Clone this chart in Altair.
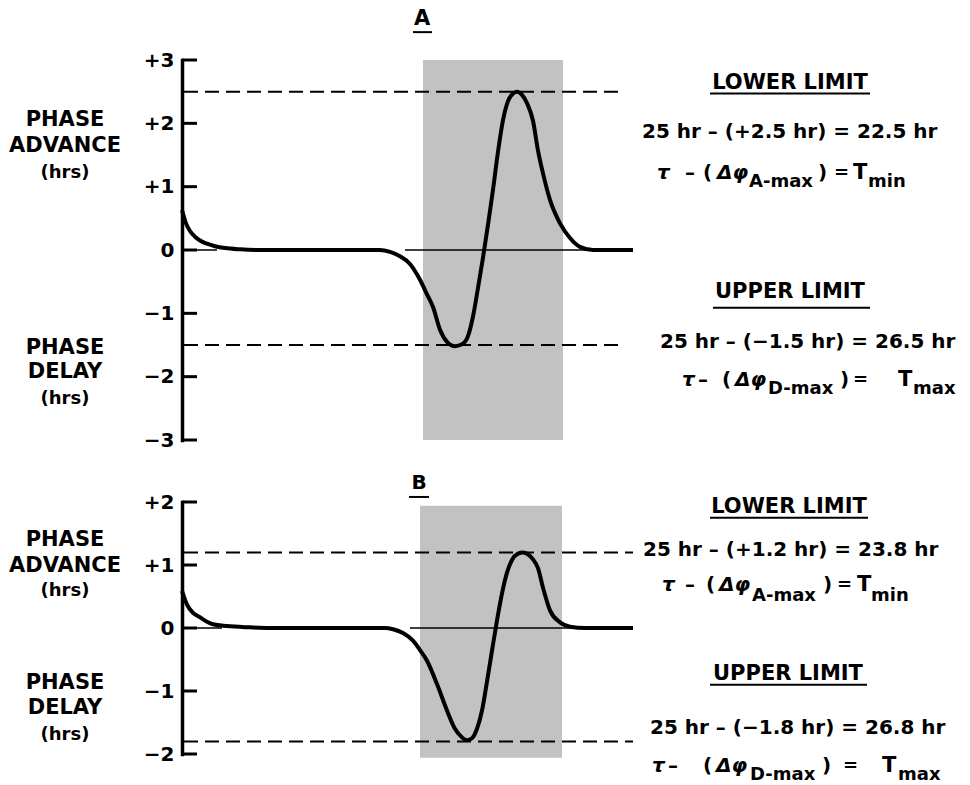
import altair as alt
import pandas as pd

FONT = "DejaVu Sans"

# ---------------- data: panel A ----------------
a_time = [0, 4, 8, 13, 18, 25, 33, 43, 58, 78, 198, 208, 218, 228, 238, 245, 251, 258, 265,
          273, 280, 286, 291, 296, 301, 306, 311, 316, 321, 326, 331, 335, 340, 345, 351, 356,
          361, 368, 378, 388, 398, 411, 451]
a_phase = [0.63, 0.42, 0.30, 0.21, 0.15, 0.10, 0.06, 0.03, 0.01, 0.0, 0.0, -0.03, -0.10, -0.22,
           -0.47, -0.70, -0.90, -1.26, -1.45, -1.52, -1.49, -1.36, -1.05, -0.60, -0.12, 0.40,
           0.95, 1.55, 2.05, 2.35, 2.47, 2.50, 2.45, 2.32, 2.04, 1.57, 1.21, 0.79, 0.42, 0.19,
           0.05, 0.0, 0.0]
a_ticks = [3, 2, 1, 0, -1, -2, -3]
a_max, a_min = 2.5, -1.5

# ---------------- data: panel B ----------------
b_time = [0, 5, 11, 18, 25, 31, 45, 68, 88, 203, 211, 221, 231, 238, 245, 255, 265, 273, 279,
          285, 290, 295, 300, 305, 310, 315, 320, 325, 330, 336, 341, 346, 351, 356, 361, 368,
          378, 388, 403, 451]
b_phase = [0.59, 0.37, 0.24, 0.17, 0.10, 0.06, 0.03, 0.01, 0.0, 0.0, -0.02, -0.08, -0.20, -0.35,
           -0.52, -0.89, -1.31, -1.60, -1.72, -1.78, -1.75, -1.60, -1.31, -0.85, -0.36, 0.12,
           0.55, 0.88, 1.08, 1.18, 1.20, 1.17, 1.09, 0.95, 0.64, 0.28, 0.09, 0.02, 0.0, 0.0]
b_ticks = [2, 1, 0, -1, -2]
b_max, b_min = 1.2, -1.8

# ---------------- text ----------------
a_eq_lower = "25 hr – (+2.5 hr) = 22.5 hr"
a_eq_upper = "25 hr – (−1.5 hr) = 26.5 hr"
b_eq_lower = "25 hr – (+1.2 hr) = 23.8 hr"
b_eq_upper = "25 hr – (−1.8 hr) = 26.8 hr"

X_SCALE = alt.Scale(domain=[0, 451], nice=False, zero=False)


def panel(time, phase, ticks, height, shade, dashes, zeros,
          centered, plain, italic, underlines):
    ysc = alt.Scale(domain=[ticks[-1], ticks[0]], nice=False, zero=False)
    axis = alt.Axis(values=ticks, ticks=False, grid=False, title=None,
                    domainColor="black", domainWidth=3.5, domainCap="square",
                    labelFont=FONT, labelFontWeight="bold", labelFontSize=20,
                    labelColor="black", labelPadding=8, labelFlush=False,
                    labelOverlap=False,
                    labelExpr="datum.value > 0 ? '+' + datum.value : (datum.value < 0 ? '\u2212' + abs(datum.value) : '0')")

    def Y(field):
        return alt.Y(field, scale=ysc, axis=axis)

    def X(field):
        return alt.X(field, scale=X_SCALE, axis=None)

    curve = pd.DataFrame({"t": time, "p": phase})

    shade_df = pd.DataFrame([shade], columns=["x1", "x2", "y1", "y2"])
    shade_l = alt.Chart(shade_df).mark_rect(color="#c2c2c2").encode(
        x=X("x1:Q"), x2="x2:Q", y=Y("y1:Q"), y2="y2:Q")

    zero_df = pd.DataFrame(zeros, columns=["x1", "x2"])
    zero_df["y"] = 0
    zero_l = alt.Chart(zero_df).mark_rule(color="black", strokeWidth=1.5).encode(
        x=X("x1:Q"), x2="x2:Q", y=Y("y:Q"))

    dash_df = pd.DataFrame(dashes, columns=["y", "x1", "x2"])
    dash_l = alt.Chart(dash_df).mark_rule(color="black", strokeWidth=2,
                                          strokeDash=[14, 7]).encode(
        x=X("x1:Q"), x2="x2:Q", y=Y("y:Q"))

    line_l = alt.Chart(curve).mark_line(color="black", strokeWidth=4,
                                        interpolate="monotone").encode(
        x=X("t:Q"), y=Y("p:Q"))

    tick_df = pd.DataFrame({"y": ticks, "x1": 0, "x2": 15})
    tick_l = alt.Chart(tick_df).mark_rule(color="black", strokeWidth=3).encode(
        x=X("x1:Q"), x2="x2:Q", y=Y("y:Q"))

    def txt(rows, align, style="normal"):
        df = pd.DataFrame(rows, columns=["text", "x", "y", "size"])
        return alt.Chart(df).mark_text(font=FONT, fontWeight="bold", fontStyle=style,
                                       align=align, baseline="middle",
                                       color="black").encode(
            x=X("x:Q"), y=Y("y:Q"), text="text:N",
            size=alt.Size("size:Q", scale=None, legend=None))

    ul_df = pd.DataFrame(underlines, columns=["x1", "x2", "y"])
    ul_l = alt.Chart(ul_df).mark_rule(color="black", strokeWidth=2).encode(
        x=X("x1:Q"), x2="x2:Q", y=Y("y:Q"))

    return alt.layer(shade_l, zero_l, dash_l, line_l, tick_l, ul_l,
                     txt(centered, "center"), txt(plain, "left"),
                     txt(italic, "left", "italic")).properties(width=451, height=height)


panel_a = panel(
    a_time, a_phase, a_ticks, 380,
    shade=[241, 381, -3, 3],
    dashes=[[a_max, 2, 441], [a_min, 2, 441]],
    zeros=[[0, 35], [223, 408]],
    centered=[["A", 240, 3.64, 21],
              ["PHASE", -117, 2.05, 21], ["ADVANCE", -117, 1.64, 21], ["(hrs)", -117, 1.21, 18],
              ["PHASE", -117, -1.54, 21], ["DELAY", -117, -1.92, 21], ["(hrs)", -117, -2.35, 18],
              ["LOWER LIMIT", 608, 2.63, 21], ["UPPER LIMIT", 608, -0.67, 21]],
    plain=[[a_eq_lower, 460, 1.86, 20], [a_eq_upper, 478, -1.45, 20],
           ["–", 503, 1.22, 20], ["(", 521, 1.22, 20], ["A-max", 567, 1.07, 18],
           [")", 636, 1.22, 20], ["=", 652, 1.22, 18], ["T", 671, 1.22, 21], ["min", 686, 1.07, 18],
           ["–", 516, -2.06, 20], ["(", 540, -2.06, 20], ["D-max", 586, -2.20, 18],
           [")", 658, -2.06, 20], ["=", 671, -2.06, 18], ["T", 716, -2.06, 21], ["max", 731, -2.20, 18]],
    italic=[["τ", 475, 1.22, 20], ["Δφ", 535, 1.22, 20],
            ["τ", 500, -2.06, 20], ["Δφ", 553, -2.06, 20]],
    underlines=[[231, 250, 3.44], [528, 688, 2.47], [531, 688, -0.91]],
)

panel_b = panel(
    b_time, b_phase, b_ticks, 252,
    shade=[238, 380, -2.06, 1.94],
    dashes=[[b_max, 2, 451], [b_min, 2, 451]],
    zeros=[[0, 40], [228, 408]],
    centered=[["B", 237, 2.30, 20],
              ["PHASE", -117, 1.40, 21], ["ADVANCE", -117, 0.98, 21], ["(hrs)", -117, 0.58, 18],
              ["PHASE", -117, -0.88, 21], ["DELAY", -117, -1.27, 21], ["(hrs)", -117, -1.70, 18],
              ["LOWER LIMIT", 607, 1.92, 21], ["UPPER LIMIT", 606, -0.73, 21]],
    plain=[[b_eq_lower, 461, 1.24, 20], [b_eq_upper, 468, -1.59, 20],
           ["–", 503, 0.68, 20], ["(", 524, 0.68, 20], ["A-max", 570, 0.51, 18],
           [")", 641, 0.68, 20], ["=", 655, 0.68, 18], ["T", 675, 0.68, 21], ["min", 689, 0.51, 18],
           ["–", 486, -2.19, 20], ["(", 521, -2.19, 20], ["D-max", 568, -2.33, 18],
           [")", 640, -2.19, 20], ["=", 661, -2.19, 18], ["T", 700, -2.19, 21], ["max", 716, -2.33, 18]],
    italic=[["τ", 480, 0.68, 20], ["Δφ", 537, 0.68, 20],
            ["τ", 470, -2.19, 20], ["Δφ", 534, -2.19, 20]],
    underlines=[[227, 247, 2.08], [528, 686, 1.75], [528, 685, -0.90]],
)

chart = alt.vconcat(panel_a, panel_b, spacing=23, padding=0).configure_view(stroke=None)

chart.save("out.html", embed_options={"renderer": "svg", "actions": False})
